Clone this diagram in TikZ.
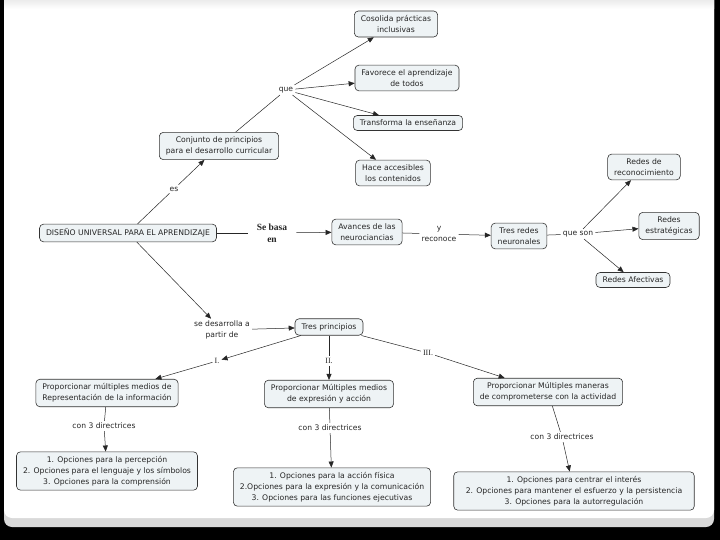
\documentclass[tikz,border=0pt]{standalone}
\usepackage{fontspec}
\setmainfont{DejaVu Sans}
\newfontfamily\serifb{Liberation Serif}
\usetikzlibrary{arrows.meta}
\definecolor{boxfill}{HTML}{EEF3F5}
\begin{document}
\begin{tikzpicture}[x=1pt,y=-1pt,
 box/.style={draw=black!80, fill=boxfill, rounded corners=4pt, line width=0.6pt, align=center, inner xsep=6.5pt, inner ysep=4.5pt, font=\fontsize{7.7}{10.8}\selectfont, text=black!85},
 lbl/.style={align=center, inner sep=2pt, font=\fontsize{7.6}{10.8}\selectfont, text=black!85},
 rom/.style={lbl, font=\serifb\fontsize{8}{10}\selectfont},
 ln/.style={draw=black!85, line width=0.5pt},
 ar/.style={ln, -{Triangle[length=6pt,width=5pt]}}]
\useasboundingbox (0,0) rectangle (720,540);
% slide background
\fill[black] (0,0) rectangle (720,540);
\fill[gray!30, rounded corners=8pt] (4,-10) rectangle (714,527);
\fill[white, rounded corners=8pt] (4,-10) rectangle (714,518);
\shade[top color=gray!15, bottom color=white] (4,0) rectangle (714,9);
% nodes
\node[box] (cos) at (396,24) {Cosolida prácticas\\inclusivas};
\node[box] (fav) at (407,78) {Favorece el aprendizaje\\de todos};
\node[box] (tra) at (408,123) {Transforma la enseñanza};
\node[box] (hac) at (393,173) {Hace accesibles\\los contenidos};
\node[lbl] (que) at (286,90) {que};
\node[box] (con) at (219,146) {Conjunto de principios\\para el desarrollo curricular};
\node[lbl] (es) at (174,189) {es};
\node[box] (dua) at (128,233) {DISEÑO UNIVERSAL PARA EL APRENDIZAJE};
\node[lbl, font=\serifb\bfseries\fontsize{9.5}{12.5}\selectfont, inner xsep=9pt] (sb) at (272,233) {Se basa\\en};
\node[box] (ava) at (367,232) {Avances de las\\neurociancias};
\node[lbl] (yr) at (439,234) {y\\reconoce};
\node[box] (tre) at (519,236) {Tres redes\\neuronales};
\node[lbl] (qs) at (578,234) {que son};
\node[box] (rr) at (644,167) {Redes de\\reconocimiento};
\node[box] (re) at (669,226) {Redes\\estratégicas};
\node[box] (ra) at (633,280) {Redes Afectivas};
\node[lbl] (sd) at (222,330) {se desarrolla a\\partir de};
\node[box] (tp) at (329,327) {Tres principios};
\node[rom] (l1) at (217,361) {I.};
\node[rom] (l2) at (329,361) {II.};
\node[rom] (l3) at (428,353) {III.};
\node[box] (p1) at (107,393) {Proporcionar múltiples medios de\\Representación de la información};
\node[box] (p2) at (329,394) {Proporcionar Múltiples medios\\de expresión  y acción};
\node[box] (p3) at (548,392) {Proporcionar Múltiples maneras\\de comprometerse con la actividad};
\node[lbl] (c1) at (104,426) {con 3 directrices};
\node[lbl] (c2) at (330,428) {con 3 directrices};
\node[lbl] (c3) at (562,437) {con 3 directrices};
\node[box] (b1) at (107,471) {1. Opciones para la percepción\\2. Opciones para el lenguaje y los símbolos\\3. Opciones para la comprensión};
\node[box] (b2) at (332,487) {1. Opciones para la acción física\\2.Opciones para la expresión y la comunicación\\3. Opciones para las funciones ejecutivas};
\node[box, inner xsep=12pt] (b3) at (574,491) {1. Opciones para centrar el interés\\2. Opciones para mantener el esfuerzo y la persistencia\\3. Opciones para la autorregulación};
% connectors
\draw[ln] (dua) -- (es);
\draw[ar] (es) -- (con);
\draw[ln] (con) -- (que);
\draw[ar] (que) -- (cos);
\draw[ar] (que) -- (fav);
\draw[ar] (que) -- (tra);
\draw[ar] (que) -- (hac);
\draw[ln] (dua) -- (sb);
\draw[ar] (sb) -- (ava);
\draw[ln] (ava) -- (yr);
\draw[ar] (yr) -- (tre);
\draw[ln] (tre) -- (qs);
\draw[ar] (qs) -- (rr);
\draw[ar] (qs) -- (re);
\draw[ar] (qs) -- (ra);
\draw[ar] (dua) -- (sd);
\draw[ar] (sd) -- (tp);
\draw[ar] (tp) -- (l1);
\draw[ar] (l1) -- (p1);
\draw[ln] (tp) -- (l2);
\draw[ar] (l2) -- (p2);
\draw[ln] (tp) -- (l3);
\draw[ar] (l3) -- (p3);
\draw[ln] (p1) -- (c1);
\draw[ar] (c1) -- (b1);
\draw[ln] (p2) -- (c2);
\draw[ar] (c2) -- (b2);
\draw[ln] (p3) -- (c3);
\draw[ar] (c3) -- (b3);
\end{tikzpicture}
\end{document}
